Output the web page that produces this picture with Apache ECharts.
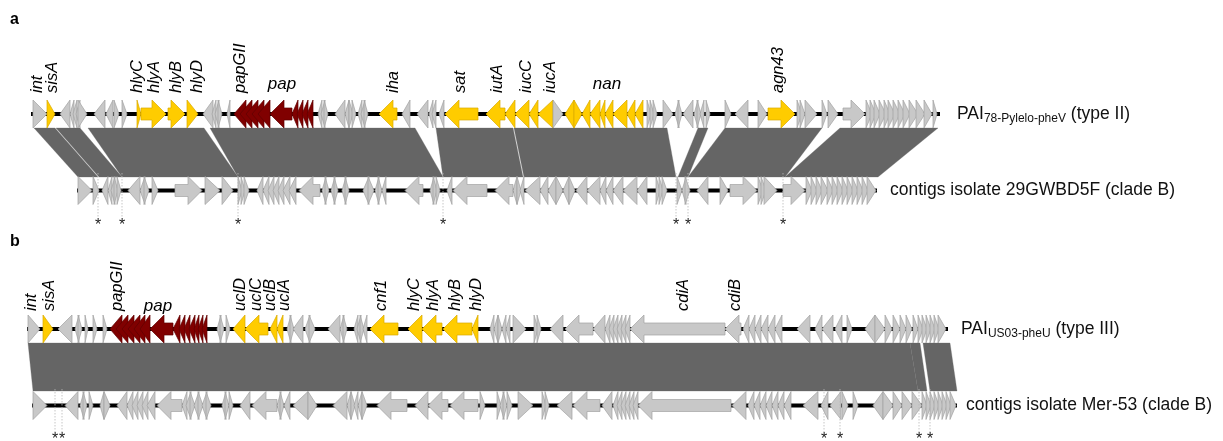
<!DOCTYPE html>
<html><head><meta charset="utf-8">
<script src="https://cdn.jsdelivr.net/npm/echarts@6/dist/echarts.min.js"></script>
<style>html,body{margin:0;padding:0;background:#fff}#c{width:1223px;height:441px}</style>
</head><body><div id="c"></div>
<script>
// ---- genes: [start, end, strand(+1 right / -1 left), kind (g gray, y virulence, r pap)] ----
const genesA1 = [
 [33,47,1,'g'],[47,55,1,'y'],[60,70,-1,'g'],[70,74,-1,'g'],[73,77,-1,'g'],[76,80,-1,'g'],[78,87,1,'g'],
 [94,105,-1,'g'],[106,113,-1,'g'],[114,119,1,'g'],[122,127,1,'g'],
 [137,141,1,'y'],[141,166,1,'y'],[168,185,1,'y'],[187,198,1,'y'],
 [203,213,-1,'g'],[212,216,-1,'g'],[215,219,-1,'g'],[218,222,1,'g'],[227,230,-1,'g'],
 [234,246,-1,'r'],[240,252,-1,'r'],[246,258,-1,'r'],[252,264,-1,'r'],[258,270,-1,'r'],
 [270,292,-1,'r'],[292,298,-1,'r'],[297,303,-1,'r'],[302,308,-1,'r'],[307,313,-1,'r'],
 [318,322,-1,'g'],[321,325,-1,'g'],[324,328,1,'g'],[335,345,-1,'g'],[345,349,-1,'g'],[349,353,1,'g'],[352,356,1,'g'],
 [358,362,-1,'g'],[361,365,-1,'g'],[364,368,1,'g'],
 [379,397,-1,'y'],[402,410,-1,'g'],[417,428,-1,'g'],[429,433,-1,'g'],[432,436,-1,'g'],[439,444,-1,'g'],
 [445,478,-1,'y'],[486,505,-1,'y'],[505,515,-1,'y'],[515,529,-1,'y'],[529,538,-1,'y'],[538,553,-1,'y'],
 [553,563,1,'g'],
 [565,574,-1,'y'],[574,582,1,'y'],[582,590,-1,'y'],[590,600,-1,'y'],[600,605,-1,'y'],[605,613,-1,'y'],
 [613,627,-1,'y'],[627,635,-1,'y'],[635,643,-1,'y'],
 [647,651,1,'g'],[650,654,1,'g'],[653,657,1,'g'],[663,673,1,'g'],[675,679,-1,'g'],[678,682,1,'g'],
 [683,693,-1,'g'],[694,698,-1,'g'],[697,701,1,'g'],[700,704,-1,'g'],[706,710,1,'g'],
 [725,731,1,'g'],[735,748,-1,'g'],[758,767,1,'g'],[768,795,1,'y'],
 [797,802,1,'g'],[800,805,1,'g'],[805,817,1,'g'],[822,827,1,'g'],[828,838,1,'g'],[843,865,1,'g'],
 [866,872,1,'g'],[870,876,1,'g'],[874,880,1,'g'],[879,886,1,'g'],[884,890,1,'g'],[888,895,1,'g'],
 [893,900,1,'g'],[898,905,1,'g'],[903,910,1,'g'],[909,918,1,'g'],[916,925,1,'g'],[924,932,1,'g'],[933,937,1,'g']
];
const genesA2 = [
 [78,92,1,'g'],[93,99,1,'g'],[102,108,-1,'g'],[108,112,-1,'g'],[111,115,-1,'g'],[114,118,1,'g'],[117,121,1,'g'],
 [128,140,-1,'g'],[140,145,-1,'g'],[144,149,1,'g'],[152,158,1,'g'],
 [175,202,1,'g'],[205,220,1,'g'],[222,233,1,'g'],
 [238,242,1,'g'],[241,245,1,'g'],[244,249,1,'g'],[257,263,-1,'g'],
 [263,269,-1,'g'],[268,274,-1,'g'],[273,279,-1,'g'],[278,284,-1,'g'],[283,290,-1,'g'],[289,296,-1,'g'],
 [299,320,-1,'g'],[322,326,-1,'g'],[325,329,1,'g'],[331,335,-1,'g'],[334,338,1,'g'],[342,346,-1,'g'],[345,349,1,'g'],
 [363,369,-1,'g'],[368,374,1,'g'],[375,379,-1,'g'],[378,382,1,'g'],[382,386,-1,'g'],
 [405,423,-1,'g'],[430,434,-1,'g'],[433,437,1,'g'],[436,440,1,'g'],[447,452,-1,'g'],
 [453,487,-1,'g'],[495,513,-1,'g'],[513,517,-1,'g'],[517,521,1,'g'],[520,524,-1,'g'],
 [525,540,-1,'g'],[540,548,-1,'g'],[548,556,-1,'g'],[556,563,1,'g'],[563,569,-1,'g'],[569,575,1,'g'],
 [576,587,-1,'g'],[587,600,-1,'g'],[600,606,-1,'g'],[606,613,-1,'g'],[613,623,-1,'g'],[623,637,-1,'g'],[637,647,-1,'g'],
 [656,660,1,'g'],[659,663,1,'g'],[662,667,1,'g'],[677,682,1,'g'],[682,686,-1,'g'],[685,690,1,'g'],
 [697,708,-1,'g'],[720,728,1,'g'],[730,757,1,'g'],[758,763,1,'g'],[761,766,1,'g'],[764,777,1,'g'],[783,805,1,'g'],
 [806,812,1,'g'],[811,817,1,'g'],[816,822,1,'g'],[821,828,1,'g'],[827,833,1,'g'],[832,838,1,'g'],
 [837,843,1,'g'],[842,848,1,'g'],[847,853,1,'g'],[852,858,1,'g'],[857,863,1,'g'],[862,868,1,'g'],[867,876,1,'g']
];
const genesB1 = [
 [28,40,1,'g'],[43,53,1,'y'],[58,72,-1,'g'],[75,79,-1,'g'],[78,82,1,'g'],[85,88,1,'g'],[93,97,1,'g'],[103,107,1,'g'],
 [110,122,-1,'r'],[116,128,-1,'r'],[122,134,-1,'r'],[128,140,-1,'r'],[134,145,-1,'r'],[140,150,-1,'r'],
 [150,173,-1,'r'],[173,180,-1,'r'],[179,185,-1,'r'],[184,190,-1,'r'],[189,195,-1,'r'],[194,199,-1,'r'],[198,203,-1,'r'],[202,207,-1,'r'],
 [217,221,-1,'g'],[220,224,1,'g'],[226,230,1,'g'],
 [233,245,-1,'y'],[245,268,-1,'y'],[270,277,-1,'y'],[277,283,-1,'y'],
 [287,291,-1,'g'],[290,294,1,'g'],[293,303,-1,'g'],[305,310,-1,'g'],[309,315,1,'g'],
 [328,340,-1,'g'],[340,344,-1,'g'],[343,347,1,'g'],[354,358,-1,'g'],[357,361,-1,'g'],[360,364,1,'g'],[363,367,-1,'g'],
 [370,398,-1,'y'],[408,422,-1,'y'],[422,442,-1,'y'],[443,472,-1,'y'],[472,478,-1,'y'],
 [490,494,-1,'g'],[494,498,-1,'g'],[498,502,1,'g'],[502,506,-1,'g'],[506,510,-1,'g'],[513,526,1,'g'],
 [534,538,1,'g'],[537,541,1,'g'],[550,563,-1,'g'],[565,593,-1,'g'],[593,605,-1,'g'],
 [605,610,-1,'g'],[609,614,-1,'g'],[613,618,-1,'g'],[617,622,-1,'g'],[621,626,-1,'g'],[625,630,-1,'g'],
 [630,725,-1,'g'],[725,741,-1,'g'],
 [743,749,-1,'g'],[749,755,-1,'g'],[755,761,-1,'g'],[761,768,-1,'g'],[768,775,-1,'g'],[775,782,-1,'g'],
 [797,810,-1,'g'],[815,822,-1,'g'],[822,833,-1,'g'],[835,842,-1,'g'],[847,852,1,'g'],
 [865,875,-1,'g'],[875,885,1,'g'],[885,892,1,'g'],[893,900,1,'g'],[900,906,1,'g'],[906,912,1,'g'],
 [913,918,1,'g'],[918,923,1,'g'],[922,927,1,'g'],[926,931,1,'g'],[930,935,1,'g'],[934,939,1,'g'],[938,946,1,'g']
];
const genesB2 = [
 [33,47,1,'g'],[65,78,-1,'g'],[80,84,-1,'g'],[83,87,1,'g'],[89,93,1,'g'],[100,104,-1,'g'],[104,110,1,'g'],
 [117,127,-1,'g'],[127,133,-1,'g'],[132,138,-1,'g'],[137,143,-1,'g'],[142,148,-1,'g'],[147,155,-1,'g'],
 [157,182,-1,'g'],[182,187,-1,'g'],[186,191,-1,'g'],[190,195,1,'g'],[194,199,-1,'g'],[198,203,1,'g'],[202,207,-1,'g'],[206,211,1,'g'],
 [222,226,-1,'g'],[225,229,1,'g'],[229,233,1,'g'],[240,250,-1,'g'],[252,277,-1,'g'],
 [277,281,-1,'g'],[280,284,1,'g'],[284,290,-1,'g'],[293,308,-1,'g'],[308,317,1,'g'],
 [333,347,-1,'g'],[347,351,-1,'g'],[351,355,1,'g'],[354,358,-1,'g'],[358,362,-1,'g'],[362,367,1,'g'],
 [377,407,-1,'g'],[415,428,-1,'g'],[428,448,-1,'g'],[450,478,-1,'g'],[480,485,1,'g'],
 [497,501,1,'g'],[500,504,-1,'g'],[503,507,1,'g'],[507,512,1,'g'],[518,533,1,'g'],[542,546,1,'g'],[545,549,1,'g'],
 [557,572,-1,'g'],[573,600,-1,'g'],[602,612,-1,'g'],
 [613,618,-1,'g'],[617,622,-1,'g'],[621,626,-1,'g'],[625,630,-1,'g'],[629,634,-1,'g'],[633,638,-1,'g'],
 [638,731,-1,'g'],[732,746,-1,'g'],
 [748,754,-1,'g'],[754,760,-1,'g'],[760,766,-1,'g'],[766,772,-1,'g'],[772,778,-1,'g'],[778,784,-1,'g'],[784,791,-1,'g'],
 [803,818,-1,'g'],[821,828,-1,'g'],[830,841,-1,'g'],[842,848,1,'g'],[853,858,1,'g'],
 [873,883,-1,'g'],[883,893,1,'g'],[893,902,1,'g'],[902,912,1,'g'],[912,922,1,'g'],
 [922,927,1,'g'],[926,931,1,'g'],[930,935,1,'g'],[934,939,1,'g'],[938,943,1,'g'],[942,947,1,'g'],[946,951,1,'g'],[950,956,1,'g']
];
// ---- backbone extents [start, end] ----
const backboneA1 = [31, 940];
const backboneA2 = [77, 877];
const backboneB1 = [27, 948];
const backboneB2 = [32, 957];
// ---- homology blocks: [topStart, topEnd, bottomStart, bottomEnd] ----
const blocksA = [
 [34,55,78,98],[56,80,99,122],[88,204,122,238],[210,415,238,443],[436,513,443,523],
 [514,667,524,676],[698,708,678,688],[725,822,688,785],[840,938,785,878]
];
const blocksB = [[28,910,33,918],[910,920,918,927],[923,950,930,957]];
// ---- gaps marked with asterisks ----
const starsA = [98,122,238,443,676,688,783];
const starsB = [55,62,824,840,919,930];
// ---- gene name labels [name, position] ----
const labelsA = [['int',37],['sisA',52],['hlyC',137],['hlyA',154],['hlyB',176],['hlyD',197],['papGII',240],
 ['iha',393],['sat',460],['iutA',497],['iucC',526],['iucA',550],['agn43',778]];
const groupLabelsA = [['pap',282],['nan',607]];
const labelsB = [['int',31],['sisA',49],['papGII',117],['uclD',240],['uclC',256],['uclB',270],['uclA',284],
 ['cnf1',381],['hlyC',414],['hlyA',433],['hlyB',455],['hlyD',476],['cdiA',683],['cdiB',735]];
const groupLabelsB = [['pap',158]];
// ---- track names ----
const trackNames = [
 {main:'PAI', sub:'78-Pylelo-pheV', tail:' (type II)'},
 {main:'contigs isolate 29GWBD5F (clade B)', sub:'', tail:''},
 {main:'PAI', sub:'US03-pheU', tail:' (type III)'},
 {main:'contigs isolate Mer-53 (clade B)', sub:'', tail:''}
];

// ---------------- layout (not data) ----------------
const L = {
  trackY: [114, 190.5, 329, 405.5],
  H: 14, h: 6, head: 14,
  blockY: [[128,177],[343,391]],
  starLine: [[173,218],[389,432]], starY:[226,440],
  labelBottom: [93, 311], groupLabelY: [84, 306],
  nameX: [957, 890, 961, 966],
  panelLetters: [['a',10,20],['b',10,242]]
};
const FILL = {g:'#c8c8c8', y:'#ffcc00', r:'#800000'};
const STROKE = {g:'#a2a2a2', y:'#d9a900', r:'#5e0000'};
const FONT = '"Liberation Sans", Arial, sans-serif';

function genePoints(x1, x2, cy, strand, H, h, head) {
  const len = x2 - x1;
  if (len <= head + 1) {
    return strand > 0 ? [[x1,cy-H],[x2,cy],[x1,cy+H]] : [[x2,cy-H],[x1,cy],[x2,cy+H]];
  }
  if (strand > 0) {
    const b = x2 - head;
    return [[x1,cy-h],[b,cy-h],[b,cy-H],[x2,cy],[b,cy+H],[b,cy+h],[x1,cy+h]];
  } else {
    const b = x1 + head;
    return [[x2,cy-h],[b,cy-h],[b,cy-H],[x1,cy],[b,cy+H],[b,cy+h],[x2,cy+h]];
  }
}

function geneSeries(arr, ti) {
  return {
    type:'custom', coordinateSystem:'cartesian2d', clip:false, silent:true, z:3,
    data: arr.map(g => [g[0], g[1], g[2]]),
    encode:{x:[0,1]},
    renderItem(params, api) {
      const g = arr[params.dataIndex];
      const p1 = api.coord([g[0], L.trackY[ti]]);
      const p2 = api.coord([g[1], L.trackY[ti]]);
      const k = g[3] || 'g';
      return {type:'polygon', shape:{points: genePoints(p1[0], p2[0], p1[1], g[2], L.H, L.h, L.head)},
        style:{fill: FILL[k], stroke: STROKE[k], lineWidth: 0.7}};
    }
  };
}

function backboneSeries(bb, ti) {
  return {
    type:'custom', coordinateSystem:'cartesian2d', clip:false, silent:true, z:2,
    data:[bb], encode:{x:[0,1]},
    renderItem(params, api) {
      const a = api.coord([bb[0], L.trackY[ti]]), b = api.coord([bb[1], L.trackY[ti]]);
      return {type:'line', shape:{x1:a[0], y1:a[1], x2:b[0], y2:b[1]}, style:{stroke:'#000', lineWidth:4}};
    }
  };
}

function blockSeries(blocks, pi) {
  return {
    type:'custom', coordinateSystem:'cartesian2d', clip:false, silent:true, z:1,
    data: blocks, encode:{x:[0,1,2,3]},
    renderItem(params, api) {
      const b = blocks[params.dataIndex];
      const yt = L.blockY[pi][0], yb = L.blockY[pi][1];
      const pts = [api.coord([b[0],yt]), api.coord([b[1],yt]), api.coord([b[3],yb]), api.coord([b[2],yb])];
      return {type:'polygon', shape:{points:pts}, style:{fill:'#656565', stroke:'#656565', lineWidth:0.3}};
    }
  };
}

function starSeries(stars, pi) {
  return {
    type:'custom', coordinateSystem:'cartesian2d', clip:false, silent:true, z:4,
    data: stars.map(s => [s]), encode:{x:0},
    renderItem(params, api) {
      const x = stars[params.dataIndex];
      const a = api.coord([x, L.starLine[pi][0]]), b = api.coord([x, L.starLine[pi][1]]);
      const s = api.coord([x, L.starY[pi]]);
      return {type:'group', children:[
        {type:'line', shape:{x1:a[0],y1:a[1],x2:b[0],y2:b[1]}, style:{stroke:'#b8b8b8', lineWidth:0.8, lineDash:[1.5,1.5]}},
        {type:'text', x:s[0], y:s[1], style:{text:'*', fill:'#222', font:'16px '+FONT, align:'center', verticalAlign:'middle'}}
      ]};
    }
  };
}

function labelSeries(labels, pi) {
  return {
    type:'custom', coordinateSystem:'cartesian2d', clip:false, silent:true, z:5,
    data: labels.map(l => [l[1]]), encode:{x:0},
    renderItem(params, api) {
      const l = labels[params.dataIndex];
      const p = api.coord([l[1], L.labelBottom[pi]]);
      return {type:'text', x:p[0], y:p[1], rotation:Math.PI/2,
        style:{text:l[0], fill:'#000', font:'italic 16.5px '+FONT, align:'left', verticalAlign:'middle'}};
    }
  };
}

function groupLabelSeries(labels, pi) {
  return {
    type:'custom', coordinateSystem:'cartesian2d', clip:false, silent:true, z:5,
    data: labels.map(l => [l[1]]), encode:{x:0},
    renderItem(params, api) {
      const l = labels[params.dataIndex];
      const p = api.coord([l[1], L.groupLabelY[pi]]);
      return {type:'text', x:p[0], y:p[1],
        style:{text:l[0], fill:'#000', font:'italic 17px '+FONT, align:'center', verticalAlign:'middle'}};
    }
  };
}

function nameSeries() {
  return {
    type:'custom', coordinateSystem:'cartesian2d', clip:false, silent:true, z:5,
    data: trackNames.map((t,i) => [L.nameX[i]]), encode:{x:0},
    renderItem(params, api) {
      const i = params.dataIndex, t = trackNames[i];
      const p = api.coord([L.nameX[i], L.trackY[i]]);
      let txt = '{m|' + t.main + '}';
      if (t.sub) txt += '{s|' + t.sub + '}{m|' + t.tail + '}';
      return {type:'text', x:p[0], y:p[1],
        style:{text:txt, align:'left', verticalAlign:'middle',
          rich:{ m:{fontSize:17.5, fontFamily:FONT, fill:'#111', lineHeight:24, verticalAlign:'middle'},
                 s:{fontSize:12, fontFamily:FONT, fill:'#111', lineHeight:24, verticalAlign:'bottom', padding:[0,0,1,0]} }}};
    }
  };
}

function letterSeries() {
  return {
    type:'custom', coordinateSystem:'cartesian2d', clip:false, silent:true, z:5,
    data: L.panelLetters.map(l => [l[1]]), encode:{x:0},
    renderItem(params, api) {
      const l = L.panelLetters[params.dataIndex];
      const p = api.coord([l[1], l[2]]);
      return {type:'text', x:p[0], y:p[1], style:{text:l[0], fill:'#000', font:'bold 16px '+FONT, align:'left', verticalAlign:'middle'}};
    }
  };
}

const chart = echarts.init(document.getElementById('c'), null, {renderer:'canvas'});
chart.setOption({
  animation:false,
  backgroundColor:'#fff',
  grid:{left:0, right:0, top:0, bottom:0},
  xAxis:{type:'value', min:0, max:1223, show:false},
  yAxis:{type:'value', min:0, max:441, inverse:true, show:false},
  series:[
    blockSeries(blocksA, 0), blockSeries(blocksB, 1),
    backboneSeries(backboneA1, 0), backboneSeries(backboneA2, 1),
    backboneSeries(backboneB1, 2), backboneSeries(backboneB2, 3),
    geneSeries(genesA1, 0), geneSeries(genesA2, 1), geneSeries(genesB1, 2), geneSeries(genesB2, 3),
    starSeries(starsA, 0), starSeries(starsB, 1),
    labelSeries(labelsA, 0), labelSeries(labelsB, 1),
    groupLabelSeries(groupLabelsA, 0), groupLabelSeries(groupLabelsB, 1),
    nameSeries(), letterSeries()
  ]
});
</script>
</body></html>
